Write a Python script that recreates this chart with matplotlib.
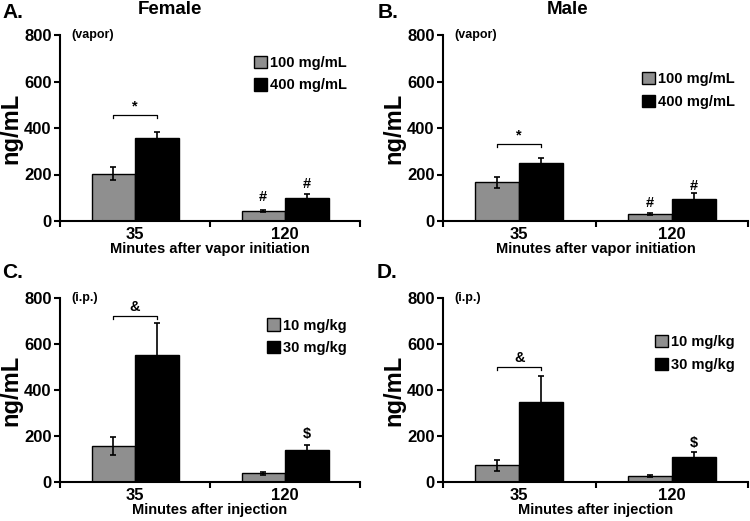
import matplotlib
matplotlib.use("Agg")
import matplotlib.pyplot as plt
import numpy as np

plt.rcParams['font.family'] = ['Liberation Sans', 'DejaVu Sans']
plt.rcParams['font.weight'] = 'bold'
plt.rcParams['axes.labelweight'] = 'bold'

# datos
tiempos = ["35", "120"]
vapor_fem_bajo = [204, 43]
vapor_fem_bajo_err = [27, 5]
vapor_fem_alto = [355, 99]
vapor_fem_alto_err = [29, 17]
vapor_mac_bajo = [166, 30]
vapor_mac_bajo_err = [23, 5]
vapor_mac_alto = [250, 95]
vapor_mac_alto_err = [22, 26]
ip_fem_bajo = [157, 38]
ip_fem_bajo_err = [40, 6]
ip_fem_alto = [554, 140]
ip_fem_alto_err = [137, 20]
ip_mac_bajo = [72, 27]
ip_mac_bajo_err = [22, 4]
ip_mac_alto = [346, 107]
ip_mac_alto_err = [115, 23]

GRIS = "#8f8f8f"
W, H = 750, 521


def panel(rect, bajo, bajo_err, alto, alto_err, leyenda, ley_y, ruta, xlabel,
          corchete_y, corchete_txt, marcas):
    ax = fig.add_axes(rect)
    x = np.arange(len(tiempos))
    ancho = 0.29
    eb = dict(ecolor="black", elinewidth=1.2, capsize=2.5, capthick=1.2)
    ax.bar(x - ancho / 2, bajo, ancho, yerr=bajo_err, color=GRIS,
           edgecolor="black", linewidth=1, label=leyenda[0], error_kw=eb)
    ax.bar(x + ancho / 2, alto, ancho, yerr=alto_err, color="black",
           edgecolor="black", linewidth=1, label=leyenda[1], error_kw=eb)
    ax.set_xlim(-0.5, 1.5)
    ax.set_ylim(0, 800)
    ax.set_yticks([0, 200, 400, 600, 800])
    ax.set_xticks(x)
    ax.set_xticklabels(tiempos)
    ax.set_xticks([-0.5, 0.5, 1.5], minor=True)
    ax.tick_params(axis='x', which='major', length=0, labelsize=12, pad=4)
    ax.tick_params(axis='x', which='minor', length=4, width=1.5)
    ax.tick_params(axis='y', length=4, width=1.5, labelsize=12, pad=2)
    for s in ['top', 'right']:
        ax.spines[s].set_visible(False)
    for s in ['left', 'bottom']:
        ax.spines[s].set_linewidth(1.5)
    ax.set_ylabel("ng/mL", fontsize=17, labelpad=1)
    ax.set_xlabel(xlabel, fontsize=10.5, labelpad=0)
    ax.text(0.037, 1.0, ruta, transform=ax.transAxes, fontsize=9,
            va="center", ha="left")
    ax.legend(loc="upper right", bbox_to_anchor=(1.0, ley_y), frameon=False,
              fontsize=10.5, handlelength=0.9, handleheight=0.9,
              handletextpad=0.2, labelspacing=0.6)
    # corchete de significancia
    x0, x1 = -ancho / 2, ancho / 2
    ax.plot([x0, x0, x1, x1], [corchete_y - 12, corchete_y, corchete_y,
                                corchete_y - 12], color="black", lw=0.9)
    ax.text(0, corchete_y + 8, corchete_txt, ha="center", va="bottom",
            fontsize=10.5)
    for xm, ym, t in marcas:
        ax.text(xm, ym, t, ha="center", va="center", fontsize=10.5)
    return ax


fig = plt.figure(figsize=(W / 100, H / 100), dpi=100)

panel([60 / W, 1 - 221 / H, 300 / W, 186 / H],
      vapor_fem_bajo, vapor_fem_bajo_err, vapor_fem_alto, vapor_fem_alto_err,
      ["100 mg/mL", "400 mg/mL"], 0.96, "(vapor)",
      "Minutes after vapor initiation",
      456, "*", [(1 - 0.145, 104, "#"), (1 + 0.145, 160, "#")])
panel([443 / W, 1 - 221 / H, 305 / W, 186 / H],
      vapor_mac_bajo, vapor_mac_bajo_err, vapor_mac_alto, vapor_mac_alto_err,
      ["100 mg/mL", "400 mg/mL"], 0.87, "(vapor)",
      "Minutes after vapor initiation",
      331, "*", [(1 - 0.145, 78, "#"), (1 + 0.145, 152, "#")])
panel([60 / W, 1 - 482 / H, 300 / W, 184 / H],
      ip_fem_bajo, ip_fem_bajo_err, ip_fem_alto, ip_fem_alto_err,
      ["10 mg/kg", "30 mg/kg"], 0.96, "(i.p.)", "Minutes after injection",
      722, "&", [(1 + 0.145, 209, "$")])
panel([443 / W, 1 - 482 / H, 305 / W, 184 / H],
      ip_mac_bajo, ip_mac_bajo_err, ip_mac_alto, ip_mac_alto_err,
      ["10 mg/kg", "30 mg/kg"], 0.87, "(i.p.)", "Minutes after injection",
      500, "&", [(1 + 0.145, 170, "$")])

fig.text(2 / W, 1 - 13 / H, "A.", fontsize=15, va="center", ha="left")
fig.text(378 / W, 1 - 13 / H, "B.", fontsize=15, va="center", ha="left")
fig.text(2 / W, 1 - 273 / H, "C.", fontsize=15, va="center", ha="left")
fig.text(377 / W, 1 - 273 / H, "D.", fontsize=15, va="center", ha="left")
fig.text(170 / W, 1 - 10 / H, "Female", fontsize=13.5, va="center", ha="center")
fig.text(568 / W, 1 - 10 / H, "Male", fontsize=13.5, va="center", ha="center")

fig.savefig("out.png", dpi=100)
